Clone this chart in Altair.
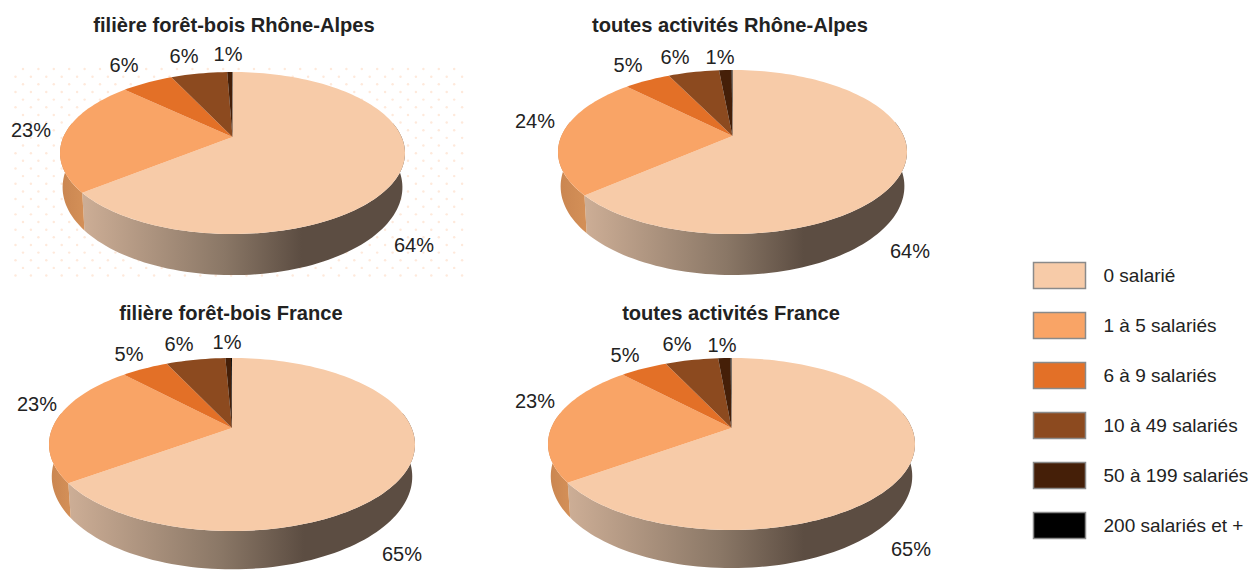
import math
import altair as alt

# ---- data ----
categories = ["0 salarié", "1 à 5 salariés", "6 à 9 salariés", "10 à 49 salariés", "50 à 199 salariés", "200 salariés et +"]
colors = ["#F7CBA8", "#F9A466", "#E37027", "#8C4A1F", "#451F08", "#000000"]
titles = ["filière forêt-bois Rhône-Alpes", "toutes activités Rhône-Alpes", "filière forêt-bois France", "toutes activités France"]
shares_p1 = [64.2, 22.9, 5.9, 6.4, 0.55, 0.05]
shares_p2 = [63.6, 24.0, 5.2, 5.7, 1.4, 0.1]
shares_p3 = [65.0, 23.0, 5.0, 6.3, 0.6, 0.1]
shares_p4 = [65.0, 23.0, 5.0, 5.6, 1.3, 0.1]
all_shares = [shares_p1, shares_p2, shares_p3, shares_p4]

# ---- layout (page pixels) ----
OFF = 8
# cx, apex y, top y, bottom y, half width, wall depth
PIES = [
    (232.5, 137, 72, 234, 172.5, 33),
    (732.5, 136, 70, 234, 174.5, 33),
    (232.0, 428, 358, 531, 183.0, 31),
    (731.5, 428, 358, 530, 183.5, 31),
]
TITLE_POS = [(234, 26), (730, 26), (231, 314), (731, 314)]
LABEL_POS = [
    [(414, 246), (31, 131), (124, 66), (184, 57), (228, 55)],
    [(910, 252), (535, 122), (628, 66), (675, 58), (720, 58)],
    [(402, 555), (37, 405), (129, 355), (179, 345), (227, 343)],
    [(911, 550), (535, 402), (625, 356), (677, 345), (722, 346)],
]
W, H = 1242, 562


def projector(pie):
    cx, ay, top, bot, rx, depth = pie
    up, dn = ay - top, bot - ay
    k = (dn - up) / (dn + up)
    B = up * (1 + k)
    A = rx * math.sqrt(1 - k * k)

    def pt(pct, low=False):
        t = 2 * math.pi * pct / 100
        X, Y = math.sin(t), math.cos(t)
        d = 1 + k * Y
        s = 0.985 if low else 1.0
        u = s * A * X / d
        v = (B * Y - (depth if low else 0)) / d
        return [round(cx + u - OFF, 2), round(ay - v - OFF, 2)]
    return pt


def feature(ring, name=""):
    return {"type": "Feature", "properties": {"name": name},
            "geometry": {"type": "Polygon", "coordinates": [ring + [ring[0]]]}}


def steps(a, b, n=0.5):
    c = max(2, int((b - a) / n) + 1)
    return [a + (b - a) * i / (c - 1) for i in range(c)]


faces, wall_main, wall_left = [], [], []
for pie, shares in zip(PIES, all_shares):
    pt = projector(pie)
    cx, ay = pie[0], pie[1]
    start = 0.0
    for cat, s in zip(categories, shares):
        ring = [[round(cx - OFF, 2), round(ay - OFF, 2)]] + [pt(p) for p in steps(start, start + s)]
        faces.append(feature(ring, cat))
        start += s
    first = shares[0]
    r1 = steps(22, first)
    wall_main.append(feature([pt(p) for p in r1] + [pt(p, True) for p in reversed(r1)]))
    r2 = steps(first, 78)
    wall_left.append(feature([pt(p) for p in r2] + [pt(p, True) for p in reversed(r2)]))

labels = []
for shares, pos in zip(all_shares, LABEL_POS):
    for s, (x, y) in zip(shares, pos):
        labels.append({"lon": x - OFF, "lat": y - OFF, "txt": f"{round(s)}%"})
title_rows = [{"lon": x - OFF, "lat": y - OFF, "txt": t} for t, (x, y) in zip(titles, TITLE_POS)]

dots = []
for i in range(28):
    y = 69 + 7.65 * i
    x = 15.5 if i % 2 else 23.0
    while x <= 465:
        dots.append({"lon": x - OFF, "lat": y - OFF})
        x += 15.4

dot_layer = alt.Chart(alt.Data(values=dots)).mark_circle(size=6, color="#FEE9DB", opacity=1).encode(
    longitude="lon:Q", latitude="lat:Q")

main_grad = alt.Gradient(gradient="linear", x1=0, x2=1, y1=0, y2=0, stops=[
    alt.GradientStop(color="#CDAE96", offset=0),
    alt.GradientStop(color="#8A7766", offset=0.44),
    alt.GradientStop(color="#5C4D42", offset=0.68),
    alt.GradientStop(color="#5C4D42", offset=1),
])
left_grad = alt.Gradient(gradient="linear", x1=0, x2=1, y1=0, y2=0, stops=[
    alt.GradientStop(color="#C98550", offset=0),
    alt.GradientStop(color="#D49058", offset=1),
])

wall_a = alt.Chart(alt.Data(values=wall_main)).mark_geoshape(color=main_grad, strokeWidth=0)
wall_b = alt.Chart(alt.Data(values=wall_left)).mark_geoshape(color=left_grad, strokeWidth=0)

top = alt.Chart(alt.Data(values=faces)).mark_geoshape().encode(
    color=alt.Color("properties.name:N",
                    scale=alt.Scale(domain=categories, range=colors),
                    sort=categories,
                    legend=alt.Legend(
                        title=None, orient="none", legendX=1032.5 - OFF, legendY=248.5 - OFF,
                        symbolType="M-1,-0.5H1V0.5H-1Z", symbolSize=2704,
                        symbolStrokeColor="#8A8A8A", symbolStrokeWidth=1.5, symbolOpacity=1,
                        labelFont="Liberation Sans", labelFontSize=19, labelColor="#222222",
                        labelOffset=17, rowPadding=7, labelLimit=200)),
)

title_layer = alt.Chart(alt.Data(values=title_rows)).mark_text(
    font="Liberation Sans", fontWeight="bold", fontSize=20.1, color="#222222").encode(
    longitude="lon:Q", latitude="lat:Q", text="txt:N")
label_layer = alt.Chart(alt.Data(values=labels)).mark_text(
    font="Liberation Sans", fontSize=20, color="#222222").encode(
    longitude="lon:Q", latitude="lat:Q", text="txt:N")

chart = alt.layer(dot_layer, wall_a, wall_b, top, title_layer, label_layer).project(
    type="identity", scale=1, translate=[0, 0]
).properties(width=W, height=H, padding=0, autosize=alt.AutoSizeParams(type="none"), view=alt.ViewConfig(stroke=None))

chart.save("out.html", embed_options={"renderer": "svg", "actions": False})
